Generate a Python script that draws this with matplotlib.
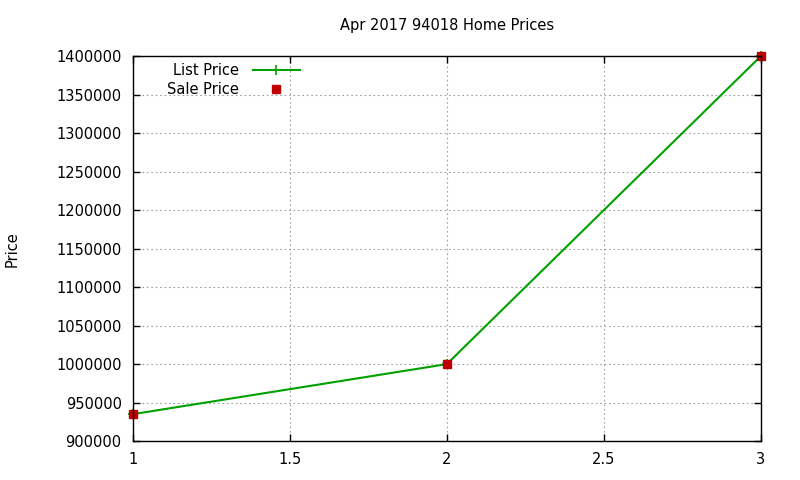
import matplotlib
matplotlib.use("Agg")
from matplotlib import pyplot as plt
from matplotlib.ticker import MultipleLocator, FuncFormatter

plt.rcParams['font.family'] = ['DejaVu Sans']

x = [1, 2, 3]
list_price = [935000, 1000000, 1400000]
sale_price = [935000, 1000000, 1400000]

fig = plt.figure(figsize=(8, 4.8), dpi=100)
ax = fig.add_axes([0.166, 0.081, 0.785, 0.802])

ax.plot(x, list_price, color='#00a000', lw=1.5, marker='+', ms=7,
        mew=1.2, label='List Price', clip_on=False)
ax.plot(x, sale_price, ls='none', color='#c00000', marker='s', ms=6,
        label='Sale Price', clip_on=False)

ax.set_xlim(1, 3)
ax.set_ylim(900000, 1400000)
ax.xaxis.set_major_locator(MultipleLocator(0.5))
ax.yaxis.set_major_locator(MultipleLocator(50000))
ax.xaxis.set_major_formatter(FuncFormatter(lambda v, p: f'{v:g}'))
ax.yaxis.set_major_formatter(FuncFormatter(lambda v, p: f'{int(v)}'))
ax.tick_params(direction='in', top=True, right=True, labelsize=10.5,
               length=5, width=1)
ax.tick_params(axis='x', pad=8)
ax.tick_params(axis='y', pad=8)
ax.grid(True, color='#a0a0a0', ls=(0, (1.5, 2.5)), lw=0.8)
for s in ax.spines.values():
    s.set_linewidth(1)

ax.set_title('Apr 2017 94018 Home Prices', fontsize=10.5, pad=19)
fig.text(0.006, 0.48, 'Price', rotation=90, fontsize=10.5, va='center')

ax.legend(loc='upper left', bbox_to_anchor=(0.04, 1.005), frameon=False,
          markerfirst=False, fontsize=10.5, handlelength=3.2,
          handletextpad=1.0, labelspacing=0.3, borderaxespad=0.2)
for t in ax.get_legend().get_texts():
    t.set_ha('right')

fig.savefig('out.png', dpi=100)
